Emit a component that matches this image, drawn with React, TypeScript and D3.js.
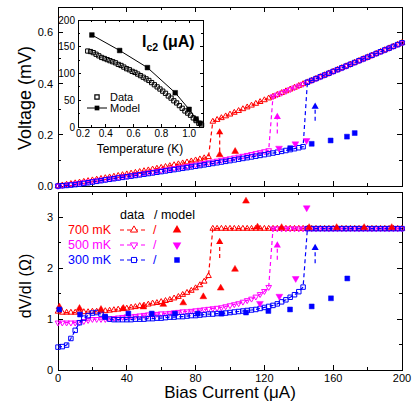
import React, { useEffect, useRef } from 'react';
import * as d3 from 'd3';

// bias current sweep (uA), shared by all three temperatures
const biasCurrent = [
  0, 2.5, 5, 7.5, 10, 12.5, 15, 17.5, 20, 22.5, 25, 27.5, 30, 32.5, 35, 37.5, 40, 42.5, 45, 47.5,
  50, 52.5, 55, 57.5, 60, 62.5, 65, 67.5, 70, 72.5, 75, 77.5, 80, 82.5, 85, 87.5, 90, 92.5, 95, 97.5,
  100, 102.5, 105, 107.5, 110, 112.5, 115, 117.5, 120, 122.5, 125, 127.5, 130, 132.5, 135, 137.5, 140, 142.5, 145, 147.5,
  150, 152.5, 155, 157.5, 160, 162.5, 165, 167.5, 170, 172.5, 175, 177.5, 180, 182.5, 185, 187.5, 190, 192.5, 195, 197.5, 200,
];

// voltage (mV)
const volt700 = [
  0, 0.0029, 0.0057, 0.0085, 0.0113, 0.0142, 0.017, 0.0199, 0.0227, 0.0256,
  0.0285, 0.0314, 0.0343, 0.0372, 0.0402, 0.0432, 0.0462, 0.0492, 0.0523, 0.0555,
  0.0586, 0.0618, 0.0651, 0.0684, 0.0717, 0.0751, 0.0785, 0.082, 0.0855, 0.0892,
  0.0929, 0.0968, 0.1007, 0.1048, 0.1091, 0.1136,
  0.252, 0.259, 0.266, 0.273, 0.28, 0.287, 0.294, 0.301, 0.308, 0.315, 0.322, 0.329, 0.336, 0.343, 0.35,
  0.357, 0.364, 0.371, 0.378, 0.385, 0.392, 0.399, 0.406, 0.413, 0.42, 0.427, 0.434, 0.441, 0.448, 0.455,
  0.462, 0.469, 0.476, 0.483, 0.49, 0.497, 0.504, 0.511, 0.518, 0.525, 0.532, 0.539, 0.546, 0.553, 0.56,
];
const volt500 = [
  0, 0.0023, 0.0047, 0.007, 0.0093, 0.0116, 0.014, 0.0164, 0.0189, 0.0214,
  0.0239, 0.0264, 0.0289, 0.0314, 0.034, 0.0366, 0.0392, 0.0418, 0.0445, 0.0471,
  0.0498, 0.0525, 0.0552, 0.058, 0.0607, 0.0635, 0.0663, 0.0691, 0.0719, 0.0748,
  0.0777, 0.0806, 0.0835, 0.0864, 0.0894, 0.0924, 0.0954, 0.0984, 0.1015, 0.1046,
  0.1077, 0.1109, 0.1142, 0.1175, 0.1209, 0.1243, 0.1279, 0.1315, 0.1353, 0.1393,
  0.35, 0.357, 0.364, 0.371, 0.378, 0.385, 0.392, 0.399, 0.406, 0.413, 0.42, 0.427, 0.434, 0.441, 0.448, 0.455,
  0.462, 0.469, 0.476, 0.483, 0.49, 0.497, 0.504, 0.511, 0.518, 0.525, 0.532, 0.539, 0.546, 0.553, 0.56,
];
const volt300 = [
  0, 0.0011, 0.0023, 0.0037, 0.0055, 0.0076, 0.01, 0.0126, 0.0154, 0.0182,
  0.021, 0.0237, 0.0262, 0.0287, 0.0312, 0.0337, 0.0361, 0.0386, 0.0411, 0.0436,
  0.0461, 0.0486, 0.0511, 0.0537, 0.0562, 0.0588, 0.0614, 0.064, 0.0666, 0.0692,
  0.0718, 0.0745, 0.0772, 0.0799, 0.0826, 0.0853, 0.0881, 0.0908, 0.0936, 0.0964,
  0.0992, 0.102, 0.1049, 0.1078, 0.1107, 0.1136, 0.1166, 0.1196, 0.1226, 0.1257,
  0.1289, 0.1321, 0.1354, 0.1388, 0.1423, 0.1459, 0.1497, 0.1537,
  0.406, 0.413, 0.42, 0.427, 0.434, 0.441, 0.448, 0.455, 0.462, 0.469, 0.476, 0.483,
  0.49, 0.497, 0.504, 0.511, 0.518, 0.525, 0.532, 0.539, 0.546, 0.553, 0.56,
];

// differential resistance (Ohm)
const dvdi700 = [
  1.15, 1.13, 1.13, 1.13, 1.13, 1.14, 1.14, 1.14, 1.15, 1.15,
  1.16, 1.16, 1.17, 1.18, 1.19, 1.2, 1.21, 1.23, 1.24, 1.26,
  1.27, 1.29, 1.31, 1.32, 1.34, 1.36, 1.38, 1.41, 1.44, 1.48,
  1.52, 1.56, 1.61, 1.67, 1.74, 1.85,
  2.78, 2.78, 2.78, 2.78, 2.78, 2.78, 2.78, 2.78, 2.78, 2.78, 2.78, 2.78, 2.78, 2.78, 2.78,
  2.78, 2.78, 2.78, 2.78, 2.78, 2.78, 2.78, 2.78, 2.78, 2.78, 2.78, 2.78, 2.78, 2.78, 2.78,
  2.78, 2.78, 2.78, 2.78, 2.78, 2.78, 2.78, 2.78, 2.78, 2.78, 2.78, 2.78, 2.78, 2.78, 2.78,
];
const dvdi500 = [
  0.93, 0.93, 0.93, 0.93, 0.93, 0.94, 0.96, 0.98, 1.0, 1.0,
  1.0, 1.0, 1.01, 1.02, 1.03, 1.04, 1.05, 1.05, 1.06, 1.07,
  1.08, 1.09, 1.09, 1.1, 1.11, 1.11, 1.12, 1.13, 1.14, 1.15,
  1.15, 1.16, 1.17, 1.18, 1.19, 1.2, 1.21, 1.22, 1.23, 1.25,
  1.27, 1.29, 1.31, 1.34, 1.37, 1.4, 1.44, 1.49, 1.55, 1.63,
  2.78, 2.78, 2.78, 2.78, 2.78, 2.78, 2.78, 2.78, 2.78, 2.78, 2.78, 2.78, 2.78, 2.78, 2.78, 2.78,
  2.78, 2.78, 2.78, 2.78, 2.78, 2.78, 2.78, 2.78, 2.78, 2.78, 2.78, 2.78, 2.78, 2.78, 2.78,
];
const dvdi300 = [
  0.45, 0.46, 0.49, 0.62, 0.78, 0.93, 1.02, 1.07, 1.12, 1.13,
  1.1, 1.04, 1.0, 0.99, 0.99, 0.99, 0.99, 0.99, 1.0, 1.0,
  1.0, 1.01, 1.01, 1.02, 1.02, 1.03, 1.04, 1.04, 1.05, 1.05,
  1.06, 1.07, 1.07, 1.08, 1.09, 1.1, 1.1, 1.11, 1.11, 1.12,
  1.13, 1.14, 1.15, 1.16, 1.17, 1.18, 1.19, 1.21, 1.23, 1.25,
  1.27, 1.3, 1.34, 1.38, 1.43, 1.48, 1.54, 1.63,
  2.78, 2.78, 2.78, 2.78, 2.78, 2.78, 2.78, 2.78, 2.78, 2.78, 2.78, 2.78,
  2.78, 2.78, 2.78, 2.78, 2.78, 2.78, 2.78, 2.78, 2.78, 2.78, 2.78,
];

// model points, top panel (I uA, V mV)
const modelVI700 = [94, 103];
const modelV700 = [0.122, 0.135];
const modelVI500 = [128.5, 138, 144.5];
const modelV500 = [0.148, 0.165, 0.178];
const modelVI300 = [135, 147.5, 158.5, 168, 172.5];
const modelV300 = [0.148, 0.165, 0.178, 0.193, 0.207];

// model points, bottom panel (I uA, dV/dI Ohm)
const modelRI700 = [0.8, 12.5, 25, 38, 49.6, 61.2, 72.8, 84.5, 94.6, 102.9, 109.3, 116, 130, 146, 162, 178, 194];
const modelR700 = [1.24, 1.21, 1.19, 1.21, 1.24, 1.29, 1.32, 1.44, 1.61, 1.98, 3.32, 2.81, 2.8, 2.8, 2.8, 2.8, 2.8];
const modelRI500 = [117.4, 128.7, 138.2, 144.6];
const modelR500 = [1.31, 1.45, 1.8, 3.19];
const modelRI300 = [0.8, 12.8, 27.3, 40.9, 54.5, 68, 81.2, 95.2, 109.3, 122.3, 134.9, 147.5, 158.7, 168.2];
const modelR300 = [1.19, 1.09, 1.05, 1.11, 1.11, 1.11, 1.11, 1.11, 1.13, 1.16, 1.19, 1.25, 1.41, 1.8];

// switching arrows (model)
const arrowI = [94, 127.5, 149.5];
const arrowVFrom = [0.135, 0.205, 0.255];
const arrowVTo = [0.21, 0.27, 0.31];
const arrowRFrom = [2.2, 2.17, 2.1];
const arrowRTo = [2.52, 2.45, 2.4];

// inset: Ic2 vs temperature
const tempData = [
  0.27, 0.29, 0.31, 0.33, 0.35, 0.37, 0.39, 0.41, 0.43, 0.45, 0.47, 0.49, 0.51, 0.53, 0.55, 0.57, 0.59, 0.61, 0.63, 0.65, 0.67,
  0.69, 0.71, 0.73, 0.75, 0.77, 0.79, 0.81, 0.83, 0.85, 0.87, 0.89, 0.91, 0.93, 0.95, 0.97, 0.99, 1.01, 1.03, 1.05, 1.07, 1.09,
];
const icData = [
  142, 141, 139, 136, 133, 130, 128, 126, 124, 122, 120, 117, 115, 112, 109, 107, 104, 102, 99, 96, 93,
  90, 87, 83, 79, 75, 71, 67, 63, 58, 54, 49, 45, 40, 35, 30, 26, 22, 17, 12, 7, 4,
];
const tempModel = [0.3, 0.5, 0.7, 0.9, 1.0, 1.05, 1.08];
const icModel = [172, 143, 111, 64, 33, 15, 7];

const currentTicks = [0, 40, 80, 120, 160, 200];
const currentMinor = [20, 60, 100, 140, 180];
const voltTicks = [0, 0.2, 0.4, 0.6];
const voltMinor = [0.1, 0.3, 0.5];
const dvdiTicks = [0, 1, 2, 3];
const dvdiMinor = [0.5, 1.5, 2.5];
const tempTicks = [0.2, 0.4, 0.6, 0.8, 1.0];
const tempMinor = [0.3, 0.5, 0.7, 0.9];
const icTicks = [0, 50, 100, 150, 200];
const icMinor = [25, 75, 125, 175];

const legendLabels = ['700 mK', '500 mK', '300 mK'];

const RED = '#ff0000';
const MAGENTA = '#ff00ff';
const BLUE = '#0000ff';
const FONT = '"Liberation Sans", Arial, Helvetica, sans-serif';

const symPath = (shape, size) =>
  d3.symbol().type(shape === 'sq' ? d3.symbolSquare : d3.symbolTriangle).size(size)();
const rot = shape => (shape === 'down' ? ' rotate(180)' : '');

function markers(g, xs, ys, px, py, shape, color, filled, size) {
  g.append('g')
    .selectAll('path')
    .data(px)
    .join('path')
    .attr('d', symPath(shape, size))
    .attr('transform', (d, i) => `translate(${xs(d)},${ys(py[i])})${rot(shape)}`)
    .attr('fill', filled ? color : 'none')
    .attr('stroke', color)
    .attr('stroke-width', filled ? 0.5 : 1);
}

function frame(g, xs, ys, xMaj, xMin, yMaj, yMin, maj, min) {
  const [xa, xb] = xs.range();
  const [ya, yb] = ys.range();
  const segs = [];
  xMaj.forEach(v => segs.push([xs(v), ya, xs(v), ya - maj], [xs(v), yb, xs(v), yb + maj]));
  xMin.forEach(v => segs.push([xs(v), ya, xs(v), ya - min], [xs(v), yb, xs(v), yb + min]));
  yMaj.forEach(v => segs.push([xa, ys(v), xa + maj, ys(v)], [xb, ys(v), xb - maj, ys(v)]));
  yMin.forEach(v => segs.push([xa, ys(v), xa + min, ys(v)], [xb, ys(v), xb - min, ys(v)]));
  g.append('g')
    .selectAll('line')
    .data(segs)
    .join('line')
    .attr('x1', d => d[0]).attr('y1', d => d[1]).attr('x2', d => d[2]).attr('y2', d => d[3])
    .attr('stroke', '#000')
    .attr('stroke-width', 1)
    .attr('shape-rendering', 'crispEdges');
  g.append('rect')
    .attr('x', xa).attr('y', yb).attr('width', xb - xa).attr('height', ya - yb)
    .attr('fill', 'none').attr('stroke', '#000').attr('stroke-width', 1)
    .attr('shape-rendering', 'crispEdges');
}

function App() {
  const svgRef = useRef(null);

  useEffect(() => {
    const svg = d3.select(svgRef.current);
    svg.selectAll('*').remove();
    svg.style('font-family', FONT);

    const x = d3.scaleLinear().domain([0, 200]).range([58, 402]);
    const yV = d3.scaleLinear().domain([0, 0.7]).range([186, 7]);
    const yR = d3.scaleLinear().domain([0, 3.5]).range([370, 192]);
    const xT = d3.scaleLinear().domain([0.2, 1.1]).range([78, 203]);
    const yI = d3.scaleLinear().domain([0, 200]).range([127, 20]);

    const series = [
      { color: RED, shape: 'up', volt: volt700, dvdi: dvdi700, mVI: modelVI700, mV: modelV700, mRI: modelRI700, mR: modelR700 },
      { color: MAGENTA, shape: 'down', volt: volt500, dvdi: dvdi500, mVI: modelVI500, mV: modelV500, mRI: modelRI500, mR: modelR500 },
      { color: BLUE, shape: 'sq', volt: volt300, dvdi: dvdi300, mVI: modelVI300, mV: modelV300, mRI: modelRI300, mR: modelR300 },
    ];
    const openSize = s => (s === 'sq' ? 20 : 14);
    const fillSize = s => (s === 'sq' ? 24 : 20);

    // ---------- top panel: V vs I ----------
    const top = svg.append('g');
    frame(top, x, yV, currentTicks, currentMinor, voltTicks, voltMinor, 5, 3);
    top.append('g').selectAll('text').data(voltTicks).join('text')
      .attr('x', 53).attr('y', d => yV(d)).attr('dy', '0.35em')
      .attr('text-anchor', 'end').attr('font-size', 11).text(d => d.toFixed(1));

    series.forEach(s => {
      const line = d3.line().x((d, i) => x(biasCurrent[i])).y(d => yV(d));
      top.append('path').attr('d', line(s.volt)).attr('fill', 'none')
        .attr('stroke', s.color).attr('stroke-width', 1.2).attr('stroke-dasharray', '4,3');
      markers(top, x, yV, biasCurrent, s.volt, s.shape, s.color, false, openSize(s.shape));
    });
    series.forEach((s, k) => {
      markers(top, x, yV, s.mVI, s.mV, s.shape, s.color, true, fillSize(s.shape));
      top.append('line')
        .attr('x1', x(arrowI[k])).attr('x2', x(arrowI[k]))
        .attr('y1', yV(arrowVFrom[k])).attr('y2', yV(arrowVTo[k]))
        .attr('stroke', s.color).attr('stroke-width', 1.2).attr('stroke-dasharray', '4,3');
      top.append('path').attr('d', symPath('up', 22))
        .attr('transform', `translate(${x(arrowI[k])},${yV(arrowVTo[k])})`).attr('fill', s.color);
    });

    // inset
    const inset = svg.append('g');
    inset.append('rect').attr('x', 78).attr('y', 20).attr('width', 125).attr('height', 107).attr('fill', '#fff');
    frame(inset, xT, yI, tempTicks, tempMinor, icTicks, icMinor, 3, 2);
    inset.append('g').selectAll('text').data(icTicks).join('text')
      .attr('x', 75).attr('y', d => yI(d)).attr('dy', '0.35em')
      .attr('text-anchor', 'end').attr('font-size', 10).text(d => d);
    inset.append('g').selectAll('text').data(tempTicks).join('text')
      .attr('x', d => (d === 0.2 ? xT(d) + 5 : xT(d))).attr('y', 137)
      .attr('text-anchor', 'middle').attr('font-size', 10).text(d => d.toFixed(1));
    inset.append('text').attr('x', 140).attr('y', 153).attr('text-anchor', 'middle')
      .attr('font-size', 12).text('Temperature (K)');
    const mline = d3.line().x((d, i) => xT(tempModel[i])).y(d => yI(d));
    inset.append('path').attr('d', mline(icModel)).attr('fill', 'none').attr('stroke', '#000').attr('stroke-width', 1);
    markers(inset, xT, yI, tempData, icData, 'sq', '#000', false, 18);
    markers(inset, xT, yI, tempModel, icModel, 'sq', '#000', true, 22);
    const title = inset.append('text').attr('x', 142).attr('y', 47).attr('font-size', 16).attr('font-weight', 'bold');
    title.append('tspan').text('I');
    title.append('tspan').attr('font-size', 10.5).attr('dy', 4).text('c2');
    title.append('tspan').attr('dy', -4).text(' (\u03bcA)');
    // inset legend
    inset.append('path').attr('d', symPath('sq', 18)).attr('transform', 'translate(97,97)')
      .attr('fill', 'none').attr('stroke', '#000').attr('stroke-width', 1.2);
    inset.append('text').attr('x', 110).attr('y', 97).attr('dy', '0.35em').attr('font-size', 11).text('Data');
    inset.append('line').attr('x1', 87).attr('x2', 107).attr('y1', 108).attr('y2', 108).attr('stroke', '#000');
    inset.append('path').attr('d', symPath('sq', 22)).attr('transform', 'translate(97,108)').attr('fill', '#000');
    inset.append('text').attr('x', 110).attr('y', 108).attr('dy', '0.35em').attr('font-size', 11).text('Model');

    top.append('text').attr('transform', 'translate(31,98) rotate(-90)').attr('text-anchor', 'middle')
      .attr('font-size', 18).text('Voltage (mV)');

    // ---------- bottom panel: dV/dI vs I ----------
    const bot = svg.append('g');
    frame(bot, x, yR, currentTicks, currentMinor, dvdiTicks, dvdiMinor, 5, 3);
    bot.append('g').selectAll('text').data(dvdiTicks).join('text')
      .attr('x', 53).attr('y', d => yR(d)).attr('dy', '0.35em')
      .attr('text-anchor', 'end').attr('font-size', 11).text(d => d);
    bot.append('g').selectAll('text').data(currentTicks).join('text')
      .attr('x', d => x(d)).attr('y', 382)
      .attr('text-anchor', 'middle').attr('font-size', 11).text(d => d);

    series.forEach(s => {
      const line = d3.line().x((d, i) => x(biasCurrent[i])).y(d => yR(d));
      bot.append('path').attr('d', line(s.dvdi)).attr('fill', 'none')
        .attr('stroke', s.color).attr('stroke-width', 1.2).attr('stroke-dasharray', '4,3');
      markers(bot, x, yR, biasCurrent, s.dvdi, s.shape, s.color, false, openSize(s.shape));
    });
    series.forEach((s, k) => {
      markers(bot, x, yR, s.mRI, s.mR, s.shape, s.color, true, fillSize(s.shape));
      bot.append('line')
        .attr('x1', x(arrowI[k])).attr('x2', x(arrowI[k]))
        .attr('y1', yR(arrowRFrom[k])).attr('y2', yR(arrowRTo[k]))
        .attr('stroke', s.color).attr('stroke-width', 1.2).attr('stroke-dasharray', '4,3');
      bot.append('path').attr('d', symPath('up', 22))
        .attr('transform', `translate(${x(arrowI[k])},${yR(arrowRTo[k])})`).attr('fill', s.color);
    });

    // legend
    const leg = bot.append('g').attr('font-size', 12.5);
    leg.append('text').attr('x', 120).attr('y', 215).attr('dy', '0.35em').text('data');
    leg.append('text').attr('x', 154).attr('y', 215).attr('dy', '0.35em').text('/ model');
    series.forEach((s, k) => {
      const ly = 230 + k * 15;
      leg.append('text').attr('x', 68).attr('y', ly).attr('dy', '0.35em').attr('fill', s.color).text(legendLabels[k]);
      leg.append('line').attr('x1', 120).attr('x2', 147).attr('y1', ly).attr('y2', ly)
        .attr('stroke', s.color).attr('stroke-width', 1.2).attr('stroke-dasharray', '4,3');
      leg.append('path').attr('d', symPath(s.shape, s.shape === 'sq' ? 26 : 22))
        .attr('transform', `translate(134,${ly})${rot(s.shape)}`)
        .attr('fill', '#fff').attr('stroke', s.color).attr('stroke-width', 1);
      leg.append('text').attr('x', 153).attr('y', ly).attr('dy', '0.35em').attr('fill', s.color).text('/');
      leg.append('path').attr('d', symPath(s.shape, s.shape === 'sq' ? 30 : 32))
        .attr('transform', `translate(177,${ly})${rot(s.shape)}`).attr('fill', s.color);
    });

    bot.append('text').attr('transform', 'translate(31,286) rotate(-90)').attr('text-anchor', 'middle')
      .attr('font-size', 16).text('dV/dI (\u03a9)');
    bot.append('text').attr('x', 230).attr('y', 398).attr('text-anchor', 'middle')
      .attr('font-size', 17).text('Bias Current (\u03bcA)');
  }, []);

  return (
    <svg
      ref={svgRef}
      width={415}
      height={415}
      style={{ position: 'absolute', left: 0, top: 0, background: '#fff', display: 'block' }}
    />
  );
}

export default App;
